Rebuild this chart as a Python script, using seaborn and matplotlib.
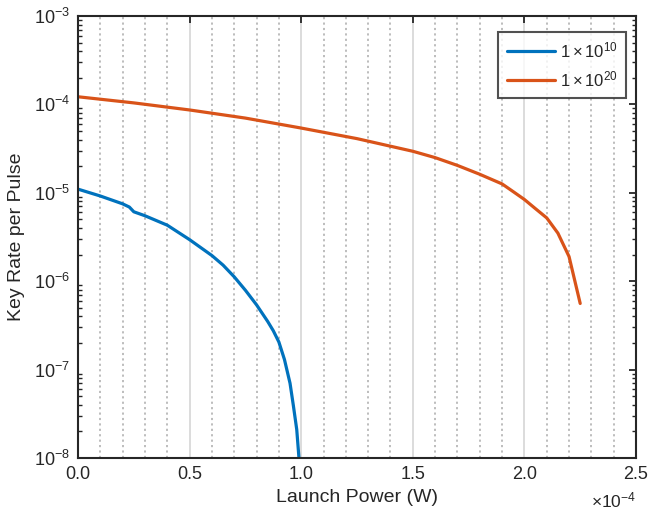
import numpy as np
import pandas as pd
import matplotlib
matplotlib.use("Agg")
import matplotlib.pyplot as plt
import matplotlib.ticker as mticker
import seaborn as sns

# Data (Launch power in W, key rate per pulse)
x_blue = [0.0, 0.1e-4, 0.2e-4, 0.23e-4, 0.25e-4, 0.3e-4, 0.4e-4, 0.5e-4, 0.6e-4, 0.65e-4,
          0.7e-4, 0.75e-4, 0.8e-4, 0.85e-4, 0.875e-4, 0.9e-4, 0.925e-4, 0.95e-4, 0.965e-4,
          0.98e-4, 0.99e-4]
y_blue = [1.1e-5, 9.2e-6, 7.5e-6, 6.9e-6, 6.1e-6, 5.5e-6, 4.3e-6, 2.95e-6, 1.95e-6, 1.52e-6,
          1.12e-6, 7.9e-7, 5.4e-7, 3.5e-7, 2.75e-7, 2.05e-7, 1.3e-7, 7.0e-8, 3.9e-8,
          2.1e-8, 1.0e-8]
x_orange = [0.0, 0.25e-4, 0.5e-4, 0.75e-4, 1.0e-4, 1.25e-4, 1.5e-4, 1.6e-4, 1.7e-4, 1.8e-4,
            1.9e-4, 1.95e-4, 2.0e-4, 2.05e-4, 2.1e-4, 2.15e-4, 2.2e-4, 2.25e-4]
y_orange = [1.22e-4, 1.04e-4, 8.65e-5, 7.0e-5, 5.4e-5, 4.1e-5, 2.95e-5, 2.5e-5, 2.04e-5, 1.62e-5,
            1.26e-5, 1.03e-5, 8.4e-6, 6.6e-6, 5.2e-6, 3.5e-6, 1.9e-6, 5.6e-7]
series_labels = [r"$1\times10^{10}$", r"$1\times10^{20}$"]
colors = ["#0072BD", "#D95319"]

df = pd.DataFrame({
    "x": x_blue + x_orange,
    "y": y_blue + y_orange,
    "s": [series_labels[0]] * len(x_blue) + [series_labels[1]] * len(x_orange),
})

sns.set_theme(style="white")
plt.rcParams["font.family"] = ["Liberation Sans", "DejaVu Sans"]
plt.rcParams["mathtext.fontset"] = "custom"
plt.rcParams["mathtext.rm"] = "Liberation Sans"
plt.rcParams["mathtext.it"] = "Liberation Sans:italic"
plt.rcParams["mathtext.bf"] = "Liberation Sans:bold"

fig = plt.figure(figsize=(6.58, 5.12), dpi=100)
ax = fig.add_axes([78 / 658, 1 - 458 / 512, (636 - 78) / 658, (458 - 16) / 512])

sns.lineplot(data=df, x="x", y="y", hue="s", palette=colors, linewidth=2.3,
             ax=ax, sort=False, estimator=None)

ax.set_yscale("log")
ax.set_xlim(0, 2.5e-4)
ax.set_ylim(1e-8, 1e-3)

ax.xaxis.set_major_locator(mticker.MultipleLocator(0.5e-4))
ax.xaxis.set_minor_locator(mticker.MultipleLocator(0.1e-4))
ax.xaxis.set_major_formatter(mticker.FuncFormatter(lambda v, p: f"{v * 1e4:.1f}"))
ax.yaxis.set_major_locator(mticker.LogLocator(base=10, numticks=10))
ax.yaxis.set_minor_locator(mticker.LogLocator(base=10, subs=np.arange(2, 10), numticks=20))
ax.yaxis.set_minor_formatter(mticker.NullFormatter())

ax.grid(False)
ax.grid(True, which="major", axis="x", color="#d9d9d9", linestyle="-", linewidth=1.3)
ax.grid(True, which="minor", axis="x", color="#b8b8b8", linestyle=(0, (1.2, 1.8)), linewidth=1.3)
ax.set_axisbelow(True)

ax.tick_params(axis="both", which="major", direction="in", length=5, width=1.3,
               colors="#262626", labelsize=13, top=True, right=True, pad=6)
ax.tick_params(axis="y", which="minor", direction="in", length=3, width=1.0,
               color="#262626", left=True, right=True)
ax.tick_params(axis="x", which="minor", length=0)
for sp in ax.spines.values():
    sp.set_color("#262626")
    sp.set_linewidth(1.5)

ax.set_xlabel("Launch Power (W)", fontsize=14, color="#262626", labelpad=4)
ax.set_ylabel("Key Rate per Pulse", fontsize=14, color="#262626", labelpad=6)
ax.text(1.0, -0.074, r"$\times10^{-4}$", transform=ax.transAxes, ha="right", va="top",
        fontsize=12.5, color="#262626")

leg = ax.legend(loc="upper right", bbox_to_anchor=((626 - 78) / 558, (458 - 32) / 442),
                fontsize=12, frameon=True, fancybox=False,
                edgecolor="#262626", handlelength=2.9, borderpad=0.5,
                labelspacing=0.55, handletextpad=0.3, borderaxespad=0.0)
leg.set_title(None)
leg.get_frame().set_linewidth(1.5)

fig.savefig("out.png", dpi=100)
